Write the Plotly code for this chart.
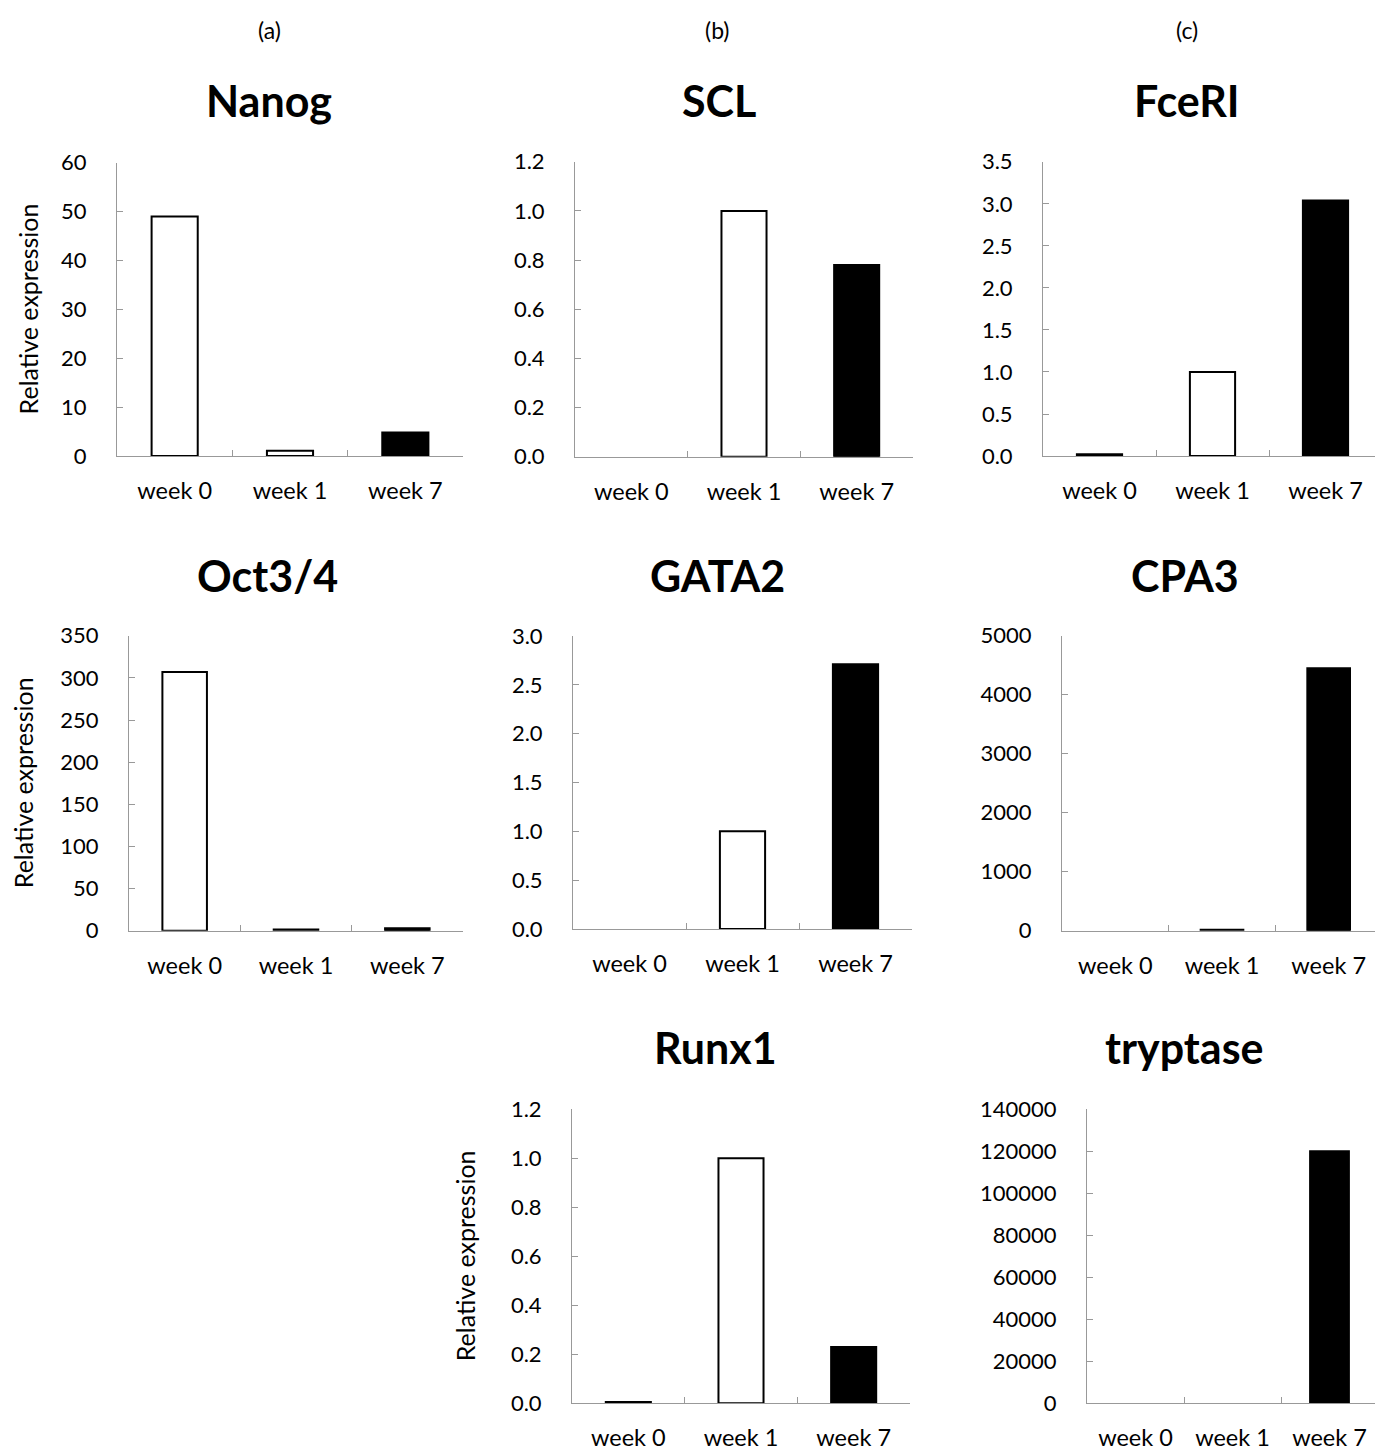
import plotly.graph_objects as go

W, H = 1383, 1451

weeks = ["week 0", "week 1", "week 7"]
bar_colors = ["white", "white", "black"]

genes = ["Nanog", "SCL", "FceRI", "Oct3/4", "GATA2", "CPA3", "Runx1", "tryptase"]

nanog = [49.0, 1.1, 4.8]
scl = [0.0, 1.0, 0.78]
fceri = [0.02, 1.0, 3.04]
oct34 = [307.0, 1.5, 3.0]
gata2 = [0.0, 1.0, 2.71]
cpa3 = [0.0, 15.0, 4450.0]
runx1 = [0.005, 1.0, 0.23]
tryptase = [0.0, 0.0, 120000.0]

values = [nanog, scl, fceri, oct34, gata2, cpa3, runx1, tryptase]

y_max = [60, 1.2, 3.5, 350, 3.0, 5000, 1.2, 140000]
y_dtick = [10, 0.2, 0.5, 50, 0.5, 1000, 0.2, 20000]
y_fmt = ["d", ".1f", ".1f", "d", ".1f", "d", ".1f", "d"]
show_ytitle = [True, False, False, True, False, False, True, False]
panel_labels = ["(a)", "(b)", "(c)"]

# target layout positions in screen pixels: (x0, x1, y_top, y_bottom)
boxes = [
    (117, 463, 162.7, 456),
    (575, 913, 161.7, 456.7),
    (1043, 1382, 161.7, 456),
    (129, 463, 635.7, 930.7),
    (573, 912, 636, 929),
    (1062, 1382, 635.7, 930.7),
    (572, 910, 1109.3, 1403.3),
    (1087, 1378, 1109.3, 1403.3),
]
title_x = [269, 719, 1187, 267, 717, 1185, 715, 1184]
title_y = [100, 100, 100, 575, 575, 575, 1048, 1048]
ytitle_x = [28, None, None, 23, None, None, 465, None]

# screen-to-paper mapping (page offset / scale of the rendered view)
X_OFF, Y_OFF, Y_SCALE = 8.0, 21.9, 0.9815


def px(X):
    return (X - X_OFF) / W


def py(Y):
    return 1 - ((Y - Y_OFF) / Y_SCALE) / H


FONT = "Lato"
fig = go.Figure()
layout = dict(
    width=W, height=H, margin=dict(l=0, r=0, t=0, b=0),
    paper_bgcolor="white", plot_bgcolor="white", showlegend=False,
    font=dict(family=FONT, color="black"),
)
annotations = []
for i, (g, vals) in enumerate(zip(genes, values)):
    n = i + 1
    xa = "x" if n == 1 else f"x{n}"
    ya = "y" if n == 1 else f"y{n}"
    line_w = [0 if v == 0 else 2 for v in vals]
    fig.add_trace(go.Bar(
        x=weeks, y=vals, xaxis=xa, yaxis=ya, width=0.4,
        marker=dict(color=bar_colors, line=dict(color="black", width=line_w)),
    ))
    x0, x1, yt, yb = boxes[i]
    layout["xaxis" if n == 1 else f"xaxis{n}"] = dict(
        domain=[px(x0), px(x1)], anchor=ya, type="category",
        showline=True, linecolor="#999999", linewidth=1,
        ticks="inside", ticklen=6, tickcolor="#999999", tickson="boundaries",
        showgrid=False, zeroline=False,
        tickfont=dict(family=FONT, size=23.5, color="black"),
        ticklabelstandoff=14,
    )
    layout["yaxis" if n == 1 else f"yaxis{n}"] = dict(
        domain=[py(yb), py(yt)], anchor=xa,
        range=[0, y_max[i]], dtick=y_dtick[i], tick0=0, tickformat=y_fmt[i],
        showline=True, linecolor="#999999", linewidth=1,
        ticks="inside", ticklen=6, tickcolor="#999999",
        showgrid=False, zeroline=False,
        tickfont=dict(family=FONT, size=22, color="black"),
        ticklabelstandoff=25,
    )
    annotations.append(dict(
        text=f"<b>{g}</b>", x=px(title_x[i]), y=py(title_y[i]),
        xref="paper", yref="paper", showarrow=False,
        font=dict(family=FONT, size=43, color="black"),
        xanchor="center", yanchor="middle",
    ))
    if show_ytitle[i]:
        annotations.append(dict(
            text="Relative expression", x=px(ytitle_x[i]), y=py((yt + yb) / 2),
            xref="paper", yref="paper", showarrow=False, textangle=-90,
            font=dict(family=FONT, size=25, color="black"),
            xanchor="center", yanchor="middle",
        ))

for lab, X in zip(panel_labels, [269, 718, 1187]):
    annotations.append(dict(
        text=lab, x=px(X), y=py(30), xref="paper", yref="paper",
        showarrow=False, font=dict(family=FONT, size=23, color="black"),
        xanchor="center", yanchor="middle",
    ))

layout["annotations"] = annotations
fig.update_layout(**layout)
fig.write_html("out.html")
